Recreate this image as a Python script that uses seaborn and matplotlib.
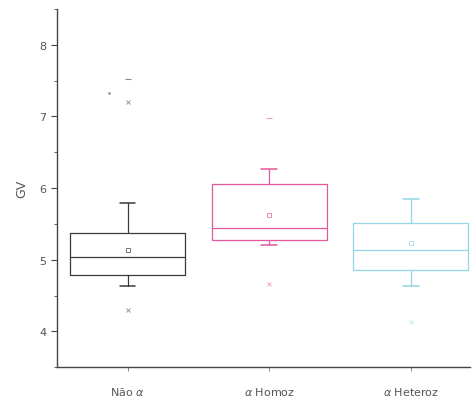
import matplotlib
matplotlib.use("Agg")
import matplotlib.pyplot as plt
import seaborn as sns
import pandas as pd
from matplotlib.ticker import MultipleLocator

sns.set_style("ticks")
plt.rcParams['font.family'] = ['DejaVu Sans']

categories = ["Não $\\alpha$", "$\\alpha$ Homoz", "$\\alpha$ Heteroz"]
q1 = [4.79, 5.27, 4.85]
median = [5.04, 5.44, 5.14]
q3 = [5.37, 6.06, 5.51]
whisk_lo = [4.63, 5.21, 4.63]
whisk_hi = [5.79, 6.27, 5.85]
means = [5.13, 5.62, 5.23]
minimum = [4.30, 4.66, 4.13]
maximum = [7.52, 6.97, None]
p99 = [7.20, None, None]
colors = ["#3a3a3a", "#e4579c", "#93d6e6"]

fig = plt.figure(figsize=(4.74, 4.10), dpi=100)
ax = fig.add_axes([0.120, 0.102, 0.872, 0.874])

stats = []
for i in range(3):
    stats.append(dict(label=categories[i], q1=q1[i], med=median[i], q3=q3[i],
                      whislo=whisk_lo[i], whishi=whisk_hi[i], fliers=[]))
for i in range(3):
    ax.bxp([stats[i]], positions=[i], widths=0.81, showfliers=False,
           capwidths=0.11,
           boxprops=dict(color=colors[i], linewidth=0.9),
           medianprops=dict(color=colors[i], linewidth=0.9),
           whiskerprops=dict(color=colors[i], linewidth=0.9),
           capprops=dict(color=colors[i], linewidth=1.1))

for i in range(3):
    ax.plot(i, means[i], marker="s", ms=3, mfc="none", mec=colors[i], mew=0.6, alpha=0.8)
    if minimum[i] is not None:
        ax.plot(i, minimum[i], marker="x", ms=3, color=colors[i], mew=0.6, alpha=0.6)
    if maximum[i] is not None:
        ax.plot(i, maximum[i], marker="_", ms=4, color=colors[i], mew=0.8, alpha=0.6)
    if p99[i] is not None:
        ax.plot(i, p99[i], marker="x", ms=3, color=colors[i], mew=0.6, alpha=0.6)
ax.plot(-0.13, 7.32, marker=".", ms=2, color="#999999")

ax.set_xlim(-0.5, 2.42)
ax.set_ylim(3.5, 8.5)
ax.set_xticks(range(3))
ax.set_xticklabels(categories, fontsize=8, color="#555555")
ax.yaxis.set_major_locator(MultipleLocator(1))
ax.yaxis.set_minor_locator(MultipleLocator(0.5))
ax.tick_params(axis="y", labelsize=8, labelcolor="#555555", length=4, width=0.8, color="#444444")
ax.tick_params(axis="y", which="minor", length=2, color="#444444")
ax.tick_params(axis="x", length=3, width=0.6, color="#777777", pad=10)
ax.set_ylabel("GV", fontsize=9, color="#555555", labelpad=8)
for s in ["top", "right"]:
    ax.spines[s].set_visible(False)
for s in ["left", "bottom"]:
    ax.spines[s].set_color("#444444")
    ax.spines[s].set_linewidth(1.0)

fig.savefig("out.png", dpi=100)
